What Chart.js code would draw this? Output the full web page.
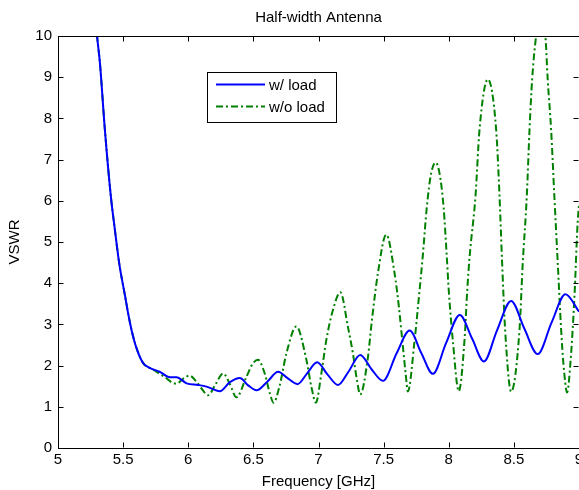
<!DOCTYPE html>
<html lang="en">
<head>
  <meta charset="UTF-8" />
  <title>Half-width Antenna</title>
  <script src="https://cdn.jsdelivr.net/npm/chart.js"></script>
  <style>
    body { margin: 0; background: #fff; }
    #wrap { width: 579px; height: 490px; }
  </style>
</head>
<body>
  <div id="wrap"><canvas id="vswrChart" width="579" height="490"></canvas></div>

  <script>
    // values (GHz, VSWR)
    const freqLoad = [5.29, 5.30, 5.322, 5.36, 5.406, 5.437, 5.47, 5.516, 5.54, 5.565, 5.60, 5.654, 5.70,
      5.78, 5.86, 5.91, 5.987, 6.076, 6.14, 6.242, 6.32, 6.396, 6.46, 6.524, 6.61, 6.69, 6.76, 6.84,
      6.91, 6.99, 7.07, 7.15, 7.23, 7.32, 7.41, 7.495, 7.60, 7.70, 7.79, 7.878, 7.98, 8.085, 8.18,
      8.27, 8.37, 8.479, 8.58, 8.683, 8.79, 8.896, 9.0];
    const vswrLoad = [10.4, 10.0, 9.34, 7.72, 6.10, 5.29, 4.48, 3.67, 3.24, 2.86, 2.45, 2.06, 1.95,
      1.85, 1.72, 1.72, 1.57, 1.53, 1.49, 1.38, 1.60, 1.70, 1.52, 1.40, 1.62, 1.85, 1.70, 1.55,
      1.80, 2.08, 1.78, 1.53, 1.85, 2.26, 1.90, 1.63, 2.30, 2.85, 2.30, 1.80, 2.55, 3.23, 2.65,
      2.10, 2.85, 3.57, 2.90, 2.28, 3.05, 3.73, 3.31];

    const freqNoLoad = [5.29, 5.30, 5.322, 5.36, 5.406, 5.437, 5.47, 5.516, 5.54, 5.565, 5.60, 5.654, 5.70,
      5.73, 5.78, 5.83, 5.87, 5.91, 5.96, 6.01, 6.06, 6.10, 6.153, 6.21, 6.268, 6.32, 6.37,
      6.447, 6.498, 6.536, 6.587, 6.626, 6.655, 6.70, 6.754, 6.83, 6.907, 6.945, 6.98,
      7.022, 7.06, 7.111, 7.168, 7.226, 7.264, 7.295, 7.32, 7.377, 7.41, 7.456, 7.52,
      7.584, 7.617, 7.643, 7.669, 7.686, 7.738, 7.776, 7.80, 7.832, 7.865, 7.90,
      7.929, 7.96, 7.985, 8.0, 8.031, 8.077, 8.121, 8.142, 8.16, 8.205, 8.236, 8.30,
      8.364, 8.39, 8.41, 8.433, 8.479, 8.543, 8.568, 8.599, 8.62, 8.64, 8.671, 8.705,
      8.742, 8.76, 8.786, 8.811, 8.837, 8.863, 8.88, 8.909, 8.934, 8.965, 8.99, 9.0];
    const vswrNoLoad = [10.4, 10.0, 9.34, 7.72, 6.10, 5.29, 4.48, 3.67, 3.24, 2.86, 2.45, 2.06, 1.95,
      1.90, 1.80, 1.70, 1.60, 1.56, 1.68, 1.76, 1.62, 1.45, 1.28, 1.55, 1.81, 1.55, 1.23,
      1.73, 2.06, 2.14, 1.81, 1.33, 1.10, 1.49, 2.30, 2.95, 2.14, 1.49, 1.10,
      1.81, 2.62, 3.35, 3.78, 2.94, 2.30, 1.65, 1.30, 2.14, 3.10, 4.24, 5.18,
      4.24, 3.43, 2.62, 1.81, 1.37, 2.62, 3.83, 4.64, 5.86, 6.67, 6.93,
      6.67, 5.86, 4.64, 3.83, 2.62, 1.38, 2.62, 3.83, 4.64, 6.10, 7.72, 8.95,
      7.72, 6.10, 4.48, 2.86, 1.37, 2.86, 4.48, 6.10, 7.72, 8.93, 10.0, 10.5,
      10.0, 8.93, 7.72, 6.10, 4.48, 2.86, 2.06, 1.35, 2.06, 3.67, 5.5, 5.9];

    const xTicks = [5, 5.5, 6, 6.5, 7, 7.5, 8, 8.5, 9];
    const yTicks = [0, 1, 2, 3, 4, 5, 6, 7, 8, 9, 10];
    const seriesNames = ["w/ load", "w/o load"];
    const chartTitle = "Half-width Antenna";

    const FONT = "'Liberation Sans', Arial, Helvetica, sans-serif";

    function toPoints(xs, ys) {
      return xs.map((x, i) => ({ x: x, y: ys[i] }));
    }

    // MATLAB style box: ticks on all four sides pointing inward, title over the axes, legend box
    const boxPlugin = {
      id: "matlabBox",
      afterDraw(chart) {
        const ctx = chart.ctx;
        const area = chart.chartArea;
        const xs = chart.scales.x;
        const ys = chart.scales.y;
        const top = Math.round(area.top) + 0.5;
        const bottom = Math.round(area.bottom) - 0.5;
        const left = Math.round(area.left) + 0.5;
        const right = Math.round(area.right) - 0.5;
        const tl = 5;

        ctx.save();
        ctx.strokeStyle = "#000";
        ctx.lineWidth = 1;
        ctx.beginPath();
        ctx.moveTo(left, top);
        ctx.lineTo(right + 1, top);
        xTicks.forEach(v => {
          const px = Math.round(xs.getPixelForValue(v)) + 0.5;
          ctx.moveTo(px, bottom);
          ctx.lineTo(px, bottom - tl);
          ctx.moveTo(px, top);
          ctx.lineTo(px, top + tl);
        });
        yTicks.forEach(v => {
          const py = Math.round(ys.getPixelForValue(v)) + 0.5;
          ctx.moveTo(left, py);
          ctx.lineTo(left + tl, py);
          ctx.moveTo(right, py);
          ctx.lineTo(right - tl, py);
        });
        ctx.stroke();

        // title, centred over the axes box
        ctx.fillStyle = "#000";
        ctx.font = "15px " + FONT;
        ctx.textAlign = "center";
        ctx.textBaseline = "middle";
        ctx.fillText(chartTitle, (area.left + area.right) / 2, 18);

        // legend
        const lx = 207.5, ly = 72.5, lw = 129, lh = 50;
        ctx.fillStyle = "#fff";
        ctx.fillRect(lx, ly, lw, lh);
        ctx.strokeRect(lx, ly, lw, lh);
        ctx.textBaseline = "middle";
        ctx.textAlign = "left";
        chart.data.datasets.forEach((ds, i) => {
          const y = 84.5 + i * 22;
          ctx.beginPath();
          ctx.strokeStyle = ds.borderColor;
          ctx.lineWidth = ds.borderWidth;
          ctx.setLineDash(ds.borderDash || []);
          ctx.moveTo(216, y);
          ctx.lineTo(265, y);
          ctx.stroke();
          ctx.setLineDash([]);
          ctx.fillStyle = "#000";
          ctx.fillText(seriesNames[i], 269, y + 1);
        });
        ctx.restore();
      }
    };

    const ctx = document.getElementById("vswrChart").getContext("2d");

    const vswrChart = new Chart(ctx, {
      type: "line",
      data: {
        datasets: [
          {
            label: seriesNames[0],
            data: toPoints(freqLoad, vswrLoad),
            borderColor: "#0000ff",
            borderWidth: 2,
            pointRadius: 0,
            cubicInterpolationMode: "monotone",
            clip: 0,
          },
          {
            label: seriesNames[1],
            data: toPoints(freqNoLoad, vswrNoLoad),
            borderColor: "#008000",
            borderWidth: 2,
            borderDash: [7, 3, 2, 3],
            pointRadius: 0,
            cubicInterpolationMode: "monotone",
            clip: 0,
          },
        ],
      },
      options: {
        responsive: false,
        animation: false,
        layout: { padding: { left: 0, right: -1, top: 36, bottom: 0 } },
        plugins: {
          legend: { display: false },
          tooltip: { enabled: false },
          title: { display: false },
        },
        scales: {
          x: {
            type: "linear",
            min: 5,
            max: 9,
            afterBuildTicks: (scale) => { scale.ticks = xTicks.map(v => ({ value: v })); },
            afterFit: (scale) => { scale.height = 42; scale.paddingRight = 0; scale.paddingLeft = 0; },
            grid: { display: false, drawTicks: false },
            border: { display: true, color: "#000", width: 1 },
            ticks: {
              color: "#000",
              padding: 3,
              maxRotation: 0,
              autoSkip: false,
              font: { family: FONT, size: 15 },
              callback: (value) => String(value),
            },
            title: {
              display: true,
              text: "Frequency [GHz]",
              color: "#000",
              font: { family: FONT, size: 15, lineHeight: 1 },
              padding: { top: 0, bottom: 1 },
            },
          },
          y: {
            type: "linear",
            min: 0,
            max: 10,
            afterBuildTicks: (scale) => { scale.ticks = yTicks.map(v => ({ value: v })); },
            afterFit: (scale) => { scale.width = 58; },
            grid: { display: false, drawTicks: false },
            border: { display: true, color: "#000", width: 1 },
            ticks: {
              color: "#000",
              padding: 6,
              autoSkip: false,
              font: { family: FONT, size: 15 },
              callback: (value) => String(value),
            },
            title: {
              display: true,
              text: "VSWR",
              color: "#000",
              font: { family: FONT, size: 15, lineHeight: 1 },
              padding: { top: 7, bottom: 0 },
            },
          },
        },
      },
      plugins: [boxPlugin],
    });
  </script>
</body>
</html>
